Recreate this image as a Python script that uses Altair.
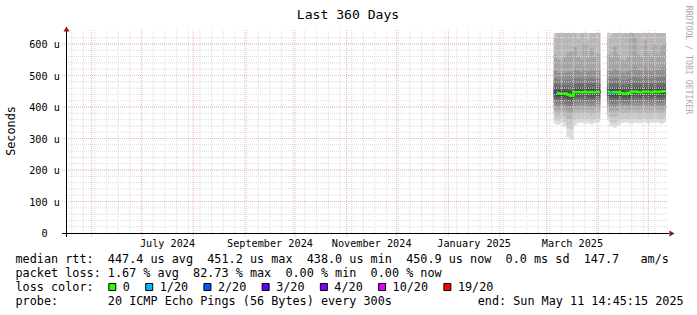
import altair as alt
import pandas as pd
from datetime import datetime

def ms(s):
    if "T" not in s:
        s = s + "T00:00:00"
    if not s.endswith("Z"):
        s = s + "Z"
    return int(datetime.fromisoformat(s.replace("Z", "+00:00")).timestamp() * 1000)

# ---------------- data ----------------
T_START = "2024-05-16T14:45:15Z"
T_END = "2025-05-11T14:45:15Z"
Y_MAX = 635  # microseconds

segment = [1] * 14 + [2] * 18
bin_start = ["2025-03-05T12:00", "2025-03-07", "2025-03-09", "2025-03-11", "2025-03-13", "2025-03-15", "2025-03-17",
             "2025-03-19", "2025-03-21", "2025-03-23", "2025-03-25", "2025-03-27", "2025-03-29", "2025-03-31",
             "2025-04-06T12:00", "2025-04-08", "2025-04-10", "2025-04-12", "2025-04-14", "2025-04-16", "2025-04-18",
             "2025-04-20", "2025-04-22", "2025-04-24", "2025-04-26", "2025-04-28", "2025-04-30", "2025-05-02",
             "2025-05-04", "2025-05-06", "2025-05-08", "2025-05-10"]
bin_end = ["2025-03-07", "2025-03-09", "2025-03-11", "2025-03-13", "2025-03-15", "2025-03-17", "2025-03-19",
           "2025-03-21", "2025-03-23", "2025-03-25", "2025-03-27", "2025-03-29", "2025-03-31", "2025-04-02",
           "2025-04-08", "2025-04-10", "2025-04-12", "2025-04-14", "2025-04-16", "2025-04-18", "2025-04-20",
           "2025-04-22", "2025-04-24", "2025-04-26", "2025-04-28", "2025-04-30", "2025-05-02", "2025-05-04",
           "2025-05-06", "2025-05-08", "2025-05-10", "2025-05-12"]

median = [446, 444, 443, 443, 440, 436, 448, 448, 447, 448, 447, 448, 447, 447,
          448, 446, 448, 447, 444, 441, 445, 448, 449, 448, 447, 449, 448, 447, 449, 448, 449, 450]
loss = [3, 0, 0, 0, 0, 0, 0, 0, 0, 0, 0, 0, 0, 0,
        0, 1, 0, 0, 0, 0, 0, 0, 0, 0, 0, 0, 0, 0, 0, 0, 0, 0]

# sorted ping rtts per bin (microseconds)
p01 = [348, 345, 350, 338, 305, 298, 342, 350, 352, 348, 350, 346, 350, 352,
       358, 338, 335, 342, 350, 352, 350, 348, 352, 350, 350, 352, 348, 350, 352, 350, 348, 352]
p02 = [360, 358, 362, 355, 335, 330, 358, 362, 364, 360, 362, 358, 362, 364,
       366, 352, 350, 356, 362, 364, 362, 360, 364, 362, 362, 364, 360, 362, 364, 362, 360, 364]
p03 = [378, 376, 380, 374, 362, 360, 378, 380, 382, 378, 380, 376, 380, 382,
       382, 372, 370, 376, 380, 382, 380, 378, 382, 380, 380, 382, 378, 380, 382, 380, 378, 382]
p04 = [393, 391, 394, 390, 382, 380, 394, 395, 396, 393, 395, 392, 395, 396,
       396, 390, 388, 392, 395, 396, 394, 393, 396, 395, 394, 396, 393, 395, 396, 394, 393, 396]
p05 = [404, 402, 405, 401, 395, 393, 405, 406, 407, 404, 406, 403, 406, 407,
       407, 402, 400, 404, 406, 407, 405, 404, 407, 406, 405, 407, 404, 406, 407, 405, 404, 407]
p06 = [414, 412, 415, 411, 406, 404, 415, 416, 417, 414, 416, 413, 416, 417,
       417, 413, 411, 414, 415, 414, 413, 414, 417, 416, 415, 417, 414, 416, 417, 415, 414, 417]
p07 = [424, 422, 424, 421, 416, 414, 425, 426, 426, 424, 426, 423, 426, 426,
       427, 423, 421, 424, 424, 422, 422, 424, 427, 426, 425, 427, 424, 426, 427, 425, 424, 427]
p08 = [432, 430, 432, 429, 425, 422, 434, 434, 434, 432, 434, 431, 434, 434,
       435, 431, 429, 432, 431, 429, 430, 432, 435, 434, 433, 435, 432, 434, 435, 433, 432, 435]
p09 = [439, 437, 438, 436, 432, 429, 441, 441, 440, 439, 441, 438, 440, 440,
       442, 438, 436, 439, 437, 435, 437, 439, 442, 441, 440, 442, 439, 441, 442, 440, 439, 442]
p10 = [444, 442, 441, 441, 438, 434, 446, 446, 445, 446, 445, 446, 445, 445,
       446, 444, 446, 445, 442, 439, 443, 446, 447, 446, 445, 447, 446, 445, 447, 446, 447, 448]
p11 = [448, 446, 445, 445, 442, 438, 450, 450, 449, 450, 449, 450, 449, 449,
       450, 448, 450, 449, 446, 443, 447, 450, 451, 450, 449, 451, 450, 449, 451, 450, 451, 452]
p12 = [453, 451, 450, 450, 448, 445, 455, 455, 454, 455, 454, 455, 454, 454,
       455, 453, 455, 454, 452, 449, 452, 455, 456, 455, 454, 456, 455, 454, 456, 455, 456, 457]
p13 = [460, 458, 457, 457, 456, 454, 462, 462, 461, 462, 461, 462, 461, 461,
       462, 460, 462, 461, 459, 457, 459, 462, 463, 462, 461, 463, 462, 461, 463, 462, 463, 464]
p14 = [472, 470, 468, 468, 468, 466, 474, 473, 472, 474, 472, 474, 472, 473,
       473, 471, 474, 472, 470, 468, 470, 474, 475, 473, 472, 475, 473, 472, 475, 473, 475, 476]
p15 = [490, 486, 484, 485, 486, 484, 492, 490, 488, 492, 488, 492, 489, 490,
       490, 487, 492, 489, 486, 484, 487, 492, 494, 490, 489, 494, 490, 489, 494, 490, 494, 495]
p16 = [515, 508, 505, 508, 512, 510, 520, 515, 510, 522, 512, 520, 514, 516,
       515, 510, 520, 514, 508, 505, 512, 522, 526, 515, 514, 526, 516, 514, 525, 516, 524, 526]
p17 = [565, 550, 545, 555, 570, 575, 590, 560, 550, 600, 555, 585, 560, 570,
       565, 555, 590, 565, 550, 545, 560, 640, 620, 565, 560, 610, 570, 560, 600, 565, 590, 600]
p18 = [620, 640, 660, 650, 680, 700, 720, 615, 660, 720, 610, 700, 650, 680,
       615, 625, 700, 650, 630, 640, 660, 760, 720, 650, 640, 700, 660, 640, 700, 650, 690, 700]
p19 = [700, 720, 760, 740, 780, 800, 820, 700, 760, 820, 690, 800, 740, 780,
       720, 760, 800, 740, 700, 720, 760, 860, 820, 740, 720, 800, 760, 720, 800, 740, 780, 800]
p20 = [900, 950, 1000, 950, 1100, 1200, 1200, 900, 1000, 1200, 900, 1100, 950, 1000,
       950, 1000, 1100, 950, 900, 950, 1000, 1300, 1200, 950, 900, 1100, 1000, 900, 1100, 950, 1050, 1100]

y_tick_values = [0, 100, 200, 300, 400, 500, 600]
y_tick_labels = ["0", "100 u", "200 u", "300 u", "400 u", "500 u", "600 u"]
x_label_dates = ["2024-07-16T12:00", "2024-09-16T00:00", "2024-11-16T00:00", "2025-01-16T12:00", "2025-03-16T12:00"]
x_label_texts = ["July 2024", "September 2024", "November 2024", "January 2025", "March 2025"]

loss_keys = [0, 1, 2, 3, 4, 10, 19]
loss_labels = ["0", "1/20", "2/20", "3/20", "4/20", "10/20", "19/20"]
loss_colors = ["#26ff00", "#00b8ff", "#0059ff", "#5e00ff", "#7e00ff", "#dd00ff", "#ff0000"]

title_text = "Last 360 Days"
legend_line1 = "median rtt:  447.4 us avg  451.2 us max  438.0 us min  450.9 us now  0.0 ms sd  147.7   am/s"
legend_line2 = "packet loss: 1.67 % avg  82.73 % max  0.00 % min  0.00 % now"
legend_line3 = "loss color:"
legend_line4 = "probe:       20 ICMP Echo Pings (56 Bytes) every 300s"
end_text = "end: Sun May 11 14:45:15 2025"
watermark = "RRDTOOL / TOBI OETIKER"

# ---------------- build tables ----------------
P = [p01, p02, p03, p04, p05, p06, p07, p08, p09, p10, p11, p12, p13, p14, p15, p16, p17, p18, p19, p20]
rows = []
for i in range(1, 11):
    g = int(190 / 10 * (10 - i)) + 50
    shade = "#%02x%02x%02x" % (g, g, g)
    for k in range(len(bin_start)):
        rows.append(dict(t0=ms(bin_start[k]), t1=ms(bin_end[k]), lo=P[i - 1][k], hi=P[20 - i][k], band=i, shade=shade))
smoke_df = pd.DataFrame(rows)

line_rows = []
for k in range(len(bin_start)):
    line_rows.append(dict(t=ms(bin_start[k]), v=median[k], seg=segment[k]))
    if k == len(bin_start) - 1 or segment[k + 1] != segment[k]:
        line_rows.append(dict(t=ms(bin_end[k]), v=median[k], seg=segment[k]))
line_df = pd.DataFrame(line_rows)

lc = dict(zip(loss_keys, loss_colors))
loss_df = pd.DataFrame([dict(t0=ms(bin_start[k]), t1=ms(bin_end[k]), v=median[k], c=lc[loss[k]])
                        for k in range(len(bin_start)) if loss[k] > 0])

weeks = pd.date_range("2024-05-20", "2025-05-11", freq="7D", tz="UTC")
months = pd.date_range("2024-06-01", "2025-05-01", freq="MS", tz="UTC")
week_df = pd.DataFrame({"t": [int(d.timestamp() * 1000) for d in weeks]})
month_df = pd.DataFrame({"t": [int(d.timestamp() * 1000) for d in months]})
minor_y_df = pd.DataFrame({"v": list(range(20, Y_MAX, 20))})
major_y_df = pd.DataFrame({"v": y_tick_values[1:]})

xscale = alt.Scale(domain=[ms(T_START), ms(T_END)])
yscale = alt.Scale(domain=[0, Y_MAX])
MONO = "DejaVu Sans Mono"
GRID = "#dadada"
MGRID = "#f5b3b3"

def XT(f):
    return alt.X(f, type="temporal", scale=xscale, axis=None)

def YQ(f):
    return alt.Y(f, type="quantitative", scale=yscale, axis=None)

def nb(s):
    return s.replace(" ", "\u00a0")

def text_at(s, x, y, size, align="left", baseline="alphabetic", angle=0, color="#000000"):
    return alt.Chart(pd.DataFrame({"s": [nb(s)]})).mark_text(
        font=MONO, fontSize=size, align=align, baseline=baseline, angle=angle, color=color
    ).encode(text="s:N", x=alt.value(x), y=alt.value(y))

# ---------------- layers ----------------
smoke = alt.Chart(smoke_df).mark_rect(clip=True, strokeWidth=0.6).encode(
    x=XT("t0"), x2="t1", y=YQ("lo"), y2="hi",
    color=alt.Color("shade:N", scale=None), stroke=alt.Stroke("shade:N", scale=None))

grid_week = alt.Chart(week_df).mark_rule(color=GRID, strokeDash=[1, 1], strokeWidth=1).encode(
    x=XT("t"), y=alt.value(-3), y2=alt.value(200))
grid_minor_y = alt.Chart(minor_y_df).mark_rule(color=GRID, strokeDash=[1, 1], strokeWidth=1).encode(
    y=YQ("v"), x=alt.value(0), x2=alt.value(601))
grid_month = alt.Chart(month_df).mark_rule(color=MGRID, strokeDash=[1, 1], strokeWidth=1).encode(
    x=XT("t"), y=alt.value(-3), y2=alt.value(204))
grid_major_y = alt.Chart(major_y_df).mark_rule(color=MGRID, strokeDash=[1, 1], strokeWidth=1).encode(
    y=YQ("v"), x=alt.value(-4), x2=alt.value(602))

axis_df = pd.DataFrame({"a": [0]})
y_axis = alt.Chart(axis_df).mark_rule(color="#000000", strokeWidth=1).encode(
    x=alt.value(0.5), y=alt.value(-2), y2=alt.value(204))
x_axis = alt.Chart(axis_df).mark_rule(color="#000000", strokeWidth=1).encode(
    y=alt.value(200.5), x=alt.value(-4), x2=alt.value(603))
arrow_up = alt.Chart(axis_df).mark_point(shape="triangle-up", filled=True, size=36, color="#8b1c1c", opacity=1).encode(
    x=alt.value(0.5), y=alt.value(-4))
arrow_right = alt.Chart(axis_df).mark_point(shape="triangle-right", filled=True, size=36, color="#8b1c1c", opacity=1).encode(
    x=alt.value(606), y=alt.value(200.5))

median_line = alt.Chart(line_df).mark_line(interpolate="step-after", color="#26ff00", strokeWidth=2.5, clip=True).encode(
    x=XT("t"), y=YQ("v"), detail="seg:N")
loss_marks = alt.Chart(loss_df).mark_rule(strokeWidth=2.5, clip=True).encode(
    x=XT("t0"), x2="t1", y=YQ("v"), color=alt.Color("c:N", scale=None))

ylab_df = pd.DataFrame({"v": y_tick_values, "s": [nb(s) for s in y_tick_labels]})
y_labels = alt.Chart(ylab_df).mark_text(font=MONO, fontSize=10.2, align="center", baseline="middle", dy=1, color="#000000").encode(
    y=YQ("v"), x=alt.value(-21.5), text="s:N")
xlab_df = pd.DataFrame({"t": [ms(d) for d in x_label_dates], "s": [nb(s) for s in x_label_texts]})
x_labels = alt.Chart(xlab_df).mark_text(font=MONO, fontSize=10.2, align="center", baseline="alphabetic", color="#000000").encode(
    x=XT("t"), y=alt.value(213.5), text="s:N")

layers = [smoke, grid_week, grid_minor_y, grid_month, grid_major_y, y_axis, x_axis, arrow_up, arrow_right,
          median_line, loss_marks, y_labels, x_labels,
          text_at(title_text, 282, -14, 13.1, align="center"),
          text_at("Seconds", -55, 98, 11.8, align="center", baseline="middle", angle=270),
          text_at(watermark, 622, 27, 8.2, align="center", baseline="middle", angle=90, color="#aaaaaa"),
          text_at(legend_line1, -50.5, 230, 11.8),
          text_at(legend_line2, -50.5, 244, 11.8),
          text_at(legend_line3, -50.5, 258, 11.8),
          text_at(legend_line4, -50.5, 272, 11.8),
          text_at(end_text, 411.7, 272, 11.8)]

CHW = 7.104
sx = 108.3 - 66
for lab, col in zip(loss_labels, loss_colors):
    layers.append(alt.Chart(axis_df).mark_square(size=49, fill=col, stroke="#000000", strokeWidth=1, opacity=1).encode(
        x=alt.value(sx + 4), y=alt.value(254)))
    tx = sx + 14.5
    layers.append(text_at(lab, tx, 258, 11.8))
    sx = tx + len(lab) * CHW + 15.3

chart = alt.layer(*layers).properties(
    width=600, height=200,
    padding={"left": 66, "top": 33, "right": 31, "bottom": 82},
    autosize=alt.AutoSizeParams(type="none"),
    background="#ffffff",
).configure_view(stroke=None)

chart.save("out.html", embed_options={"renderer": "svg", "actions": False})
